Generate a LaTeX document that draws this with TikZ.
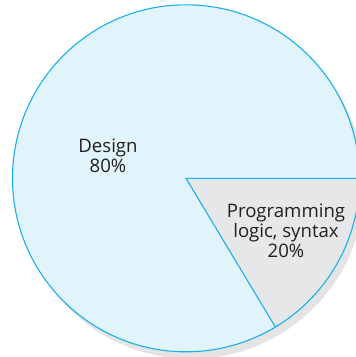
\documentclass[tikz,border=0pt]{standalone}
\usepackage{fontspec}
\setmainfont{Open Sans}
\usetikzlibrary{calc}
\definecolor{pieline}{HTML}{1AB0EC}
\definecolor{piefill}{HTML}{E1F3FB}
\definecolor{slicefill}{HTML}{E6E7E8}
\definecolor{shadowfill}{HTML}{E4E4E4}
\definecolor{labeltext}{HTML}{231F20}
\tikzset{
  pielabel/.style={align=center, text=labeltext, font=\fontsize{18.6}{20}\selectfont, inner sep=0pt},
  rim/.style={draw=pieline, line width=1.1pt}
}
\begin{document}
\begin{tikzpicture}[x=1pt, y=-1pt]
\useasboundingbox (0,0) rectangle (356,357);
\clip (0,0) rectangle (356,357);
\coordinate (c) at (186,178.3);
\def\R{173.5}
% drop shadow
\fill[shadowfill] ($(c)+(5,7)$) circle (\R);
% main disc
\fill[piefill] (c) circle (\R);
% the 20% slice
\fill[slicefill] (c) -- ++(0:\R) arc[start angle=0, end angle=59, radius=\R] -- cycle;
\draw[rim] (c) circle (\R);
\draw[rim] ($(c)+(0:\R)$) coordinate (e1) -- (c) -- ($(c)+(59:\R)$) coordinate (e2);
\node[pielabel] (design) at (108,156) {Design\\80\%};
\node[pielabel] (prog) at (286,231) {Programming\\logic, syntax\\20\%};
\end{tikzpicture}
\end{document}
